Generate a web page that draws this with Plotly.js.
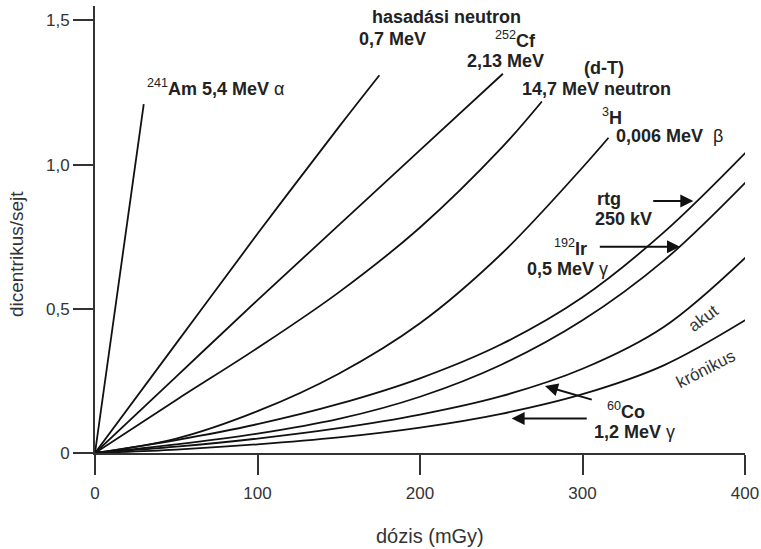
<!DOCTYPE html>
<html>
<head>
<meta charset="utf-8">
<script src="https://cdn.plot.ly/plotly-3.0.1.min.js"></script>
<style>html,body{margin:0;padding:0;background:#fff;}</style>
</head>
<body>
<div id="chart" style="width:761px;height:549px;"></div>
<script>
// Dose (mGy) and dicentrics per cell
const amDose   = [0, 30];
const amVal    = [0, 1.21];
const fisDose  = [0, 50, 100, 150, 175];
const fisVal   = [0, 0.38, 0.76, 1.13, 1.31];
const cfDose   = [0, 50, 100, 150, 200, 251];
const cfVal    = [0, 0.265, 0.53, 0.79, 1.05, 1.315];
const dtDose   = [0, 50, 100, 150, 200, 250, 275];
const dtVal    = [0, 0.184, 0.364, 0.557, 0.782, 1.057, 1.219];
const h3Dose   = [0, 50, 100, 150, 200, 250, 300, 316];
const h3Val    = [0, 0.05, 0.145, 0.275, 0.45, 0.69, 0.99, 1.093];
const gDose    = [0, 50, 100, 150, 200, 250, 300, 350, 402];
const rtgVal   = [0, 0.045, 0.10, 0.17, 0.259, 0.377, 0.54, 0.765, 1.051];
const irVal    = [0, 0.03, 0.067, 0.118, 0.195, 0.306, 0.46, 0.667, 0.948];
const akutVal  = [0, 0.022, 0.05, 0.086, 0.133, 0.197, 0.292, 0.437, 0.687];
const kronVal  = [0, 0.012, 0.03, 0.054, 0.088, 0.136, 0.204, 0.304, 0.467];

const xTicks = [0, 100, 200, 300, 400];
const yTicks = [0, 0.5, 1.0, 1.5];
const yTickText = ['0', '0,5', '1,0', '1,5'];

const FONT = 'Liberation Sans, Arial, sans-serif';
const TXT = '#222';

function curve(x, y) {
  return {x: x, y: y, type: 'scatter', mode: 'lines', cliponaxis: false,
          line: {color: '#111', width: 1.8, shape: 'spline', smoothing: 1.0},
          hoverinfo: 'skip', showlegend: false};
}
const traces = [
  curve(amDose, amVal), curve(fisDose, fisVal), curve(cfDose, cfVal),
  curve(dtDose, dtVal), curve(h3Dose, h3Val), curve(gDose, rtgVal),
  curve(gDose, irVal), curve(gDose, akutVal), curve(gDose, kronVal)
];

function lab(text, x, y, xanchor, extra) {
  return Object.assign({text: text, x: x, y: y, xref: 'x', yref: 'y',
    xanchor: xanchor || 'center', yanchor: 'middle', showarrow: false,
    font: {family: FONT, size: 18, color: TXT}}, extra || {});
}
function arrow(x, y, ax, ay) {
  return {text: '', x: x, y: y, xref: 'x', yref: 'y', ax: ax, ay: ay,
    showarrow: true, arrowhead: 2, arrowsize: 1.3, arrowwidth: 2, arrowcolor: '#111',
    standoff: 0, startstandoff: 0};
}

const annotations = [
  lab('<sup>241</sup><b>Am 5,4 MeV</b> α', 30.8, 1.266, 'left'),
  lab('<b>hasadási neutron</b>', 216, 1.512),
  lab('<b>0,7 MeV</b>', 182.8, 1.435),
  lab('<sup>252</sup><b>Cf</b>', 244.9, 1.435, 'left'),
  lab('<b>2,13 MeV</b>', 252.9, 1.359),
  lab('<b>(d-T)</b>', 313.2, 1.335),
  lab('<b>14,7 MeV neutron</b>', 261.5, 1.262, 'left'),
  lab('<sup>3</sup><b>H</b>', 310.8, 1.168, 'left'),
  lab('<b>0,006 MeV</b>  β', 319.4, 1.099, 'left'),
  lab('<b>rtg</b>', 316.3, 0.881),
  lab('<b>250 kV</b>', 325.5, 0.811),
  lab('<sup>192</sup><b>Ir</b>', 281.2, 0.711, 'left'),
  lab('<b>0,5 MeV</b> γ', 264.6, 0.638, 'left'),
  lab('<sup>60</sup><b>Co</b>', 313.8, 0.149, 'left'),
  lab('<b>1,2 MeV</b> γ', 305.7, 0.073, 'left'),
  lab('akut', 374.2, 0.468, 'center', {textangle: -37, font: {family: FONT, size: 17, color: '#333'}}),
  lab('krónikus', 375.4, 0.291, 'center', {textangle: -27, font: {family: FONT, size: 17, color: '#333'}}),
  arrow(368.2, 0.874, -41.6, 0),
  arrow(360, 0.715, -81.7, 0),
  arrow(276.9, 0.232, 48.3, 14),
  arrow(256.4, 0.120, 76.6, 0),
  {text: 'dózis (mGy)', xref: 'paper', yref: 'paper', x: 0.515, y: -0.1857,
   xanchor: 'center', yanchor: 'middle', showarrow: false,
   font: {family: FONT, size: 20, color: '#333'}},
  {text: 'dicentrikus/sejt', xref: 'paper', yref: 'paper', x: -0.1215, y: 0.445,
   xanchor: 'center', yanchor: 'middle', showarrow: false, textangle: -90,
   font: {family: FONT, size: 19, color: '#333'}}
];

const layout = {
  width: 761, height: 549,
  margin: {l: 95, r: 16, t: 6, b: 96},
  paper_bgcolor: '#fff', plot_bgcolor: '#fff',
  showlegend: false,
  font: {family: FONT, color: '#333'},
  xaxis: {range: [0, 400], showgrid: false, zeroline: false, showline: true,
    linecolor: '#333', linewidth: 2, ticks: 'outside', ticklen: 20, tickwidth: 2,
    tickcolor: '#333', tickvals: xTicks, ticktext: xTicks.map(String),
    tickfont: {family: FONT, size: 17, color: '#333'}, ticklabelstandoff: 4,
    fixedrange: true},
  yaxis: {range: [0, 1.55], showgrid: false, zeroline: false, showline: true,
    linecolor: '#333', linewidth: 2, ticks: 'outside', ticklen: 20, tickwidth: 2,
    tickcolor: '#333', tickvals: yTicks, ticktext: yTickText,
    tickfont: {family: FONT, size: 17, color: '#333'}, fixedrange: true},
  annotations: annotations
};

Plotly.newPlot('chart', traces, layout, {displayModeBar: false, staticPlot: true});
</script>
</body>
</html>
